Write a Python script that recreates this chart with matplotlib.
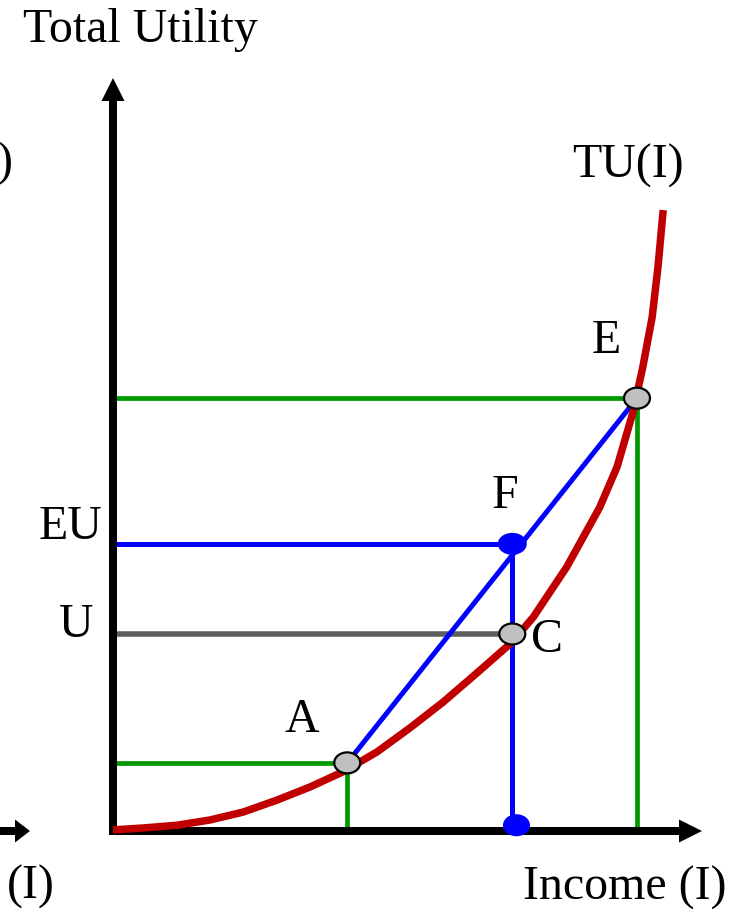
import matplotlib.pyplot as plt
from matplotlib.patches import Ellipse

# TU(I) curve (income, total utility)
curve_income = [0.0, 6.1, 12.2, 18.5, 24.8, 31.3, 37.6, 43.9, 50.4, 56.7, 63.0,
                69.5, 76.0, 80.2, 86.6, 92.9, 96.2, 99.2, 101.1, 102.9, 104.0, 105.0]
curve_util = [0.2, 0.6, 1.1, 2.1, 3.6, 5.9, 8.4, 11.3, 15.1, 19.7, 24.6,
              30.2, 35.9, 40.8, 50.4, 61.8, 69.5, 79.8, 88.5, 98.1, 107.6, 118.5]

# named points
income_A, util_A = 44.7, 13.0
income_C, util_C = 76.2, 37.6
util_EU = 54.8
income_E, util_E = 100.0, 82.6
income_dot, util_dot = 77.0, 1.1

# pixel scale of the original drawing (for layout only)
S = 5.24
X0, Y0 = 113, 831


def px(x, y):
	return (x - X0) / S, (Y0 - y) / S


RED = '#C00000'
GREEN = '#009900'
BLUE = '#0000FF'
GRAY = '#5F5F5F'
MARK = '#C0C0C0'

plt.rcParams['font.family'] = ['Liberation Serif', 'DejaVu Serif']
FS = 34.5

fig = plt.figure(figsize=(7.37, 9.09), dpi=100)
ax = fig.add_axes([0, 0, 1, 1])
ax.set_xlim(px(0, 0)[0], px(737, 0)[0])
ax.set_ylim(px(0, 909)[1], px(0, 0)[1])
ax.axis('off')

# guide lines
ax.plot([0, income_A, income_A], [util_A, util_A, 0], color=GREEN, lw=3.4, zorder=1)
ax.plot([0, income_E, income_E], [util_E, util_E, 0], color=GREEN, lw=3.4, zorder=1)
ax.plot([0, income_C], [util_C, util_C], color=GRAY, lw=4, zorder=1)
ax.plot([0, income_C, income_C], [util_EU, util_EU, 0], color=BLUE, lw=3.6, zorder=1)
ax.plot([income_A, income_E], [util_A, util_E], color=BLUE, lw=3.6, zorder=1)

# axes with arrow heads
hw, hl, w = 23 / S, 23 / S, 8 / S
ytip = px(0, 78)[1]
xtip = px(702, 0)[0]
ax.arrow(0, -w / 2, 0, ytip + w / 2, width=w, head_width=hw, head_length=hl,
         length_includes_head=True, color='black', lw=0, zorder=2)
ax.arrow(-w / 2, 0, xtip + w / 2, 0, width=w, head_width=hw, head_length=hl,
         length_includes_head=True, color='black', lw=0, zorder=2)
# cut-off arrow from the neighbouring panel
lx0 = px(-10, 0)[0]
lx1 = px(30, 0)[0]
ax.arrow(lx0, 0, lx1 - lx0, 0, width=w, head_width=hw, head_length=15 / S,
         length_includes_head=True, color='black', lw=0, zorder=2)

# utility curve
ax.plot(curve_income, curve_util, color=RED, lw=5.4, solid_capstyle='butt',
        solid_joinstyle='round', zorder=3)

# markers
for xi, yi in [(income_A, util_A), (income_C, util_C), (income_E, util_E)]:
	ax.add_patch(Ellipse((xi, yi), 26 / S, 21 / S, facecolor=MARK,
	                     edgecolor='black', lw=1.6, zorder=4))
ax.add_patch(Ellipse((income_C, util_EU), 29 / S, 22 / S, facecolor=BLUE,
                     edgecolor='none', zorder=4))
ax.add_patch(Ellipse((income_dot, util_dot), 27 / S, 22 / S, facecolor=BLUE,
                     edgecolor='none', zorder=4))

# labels
labels = [
	('Total Utility', 140, 42, 'center'),
	('TU(I)', 628, 178, 'center'),
	('E', 606, 353, 'center'),
	('F', 505, 508, 'center'),
	('EU', 70, 539, 'center'),
	('U', 76, 637, 'center'),
	('C', 547, 652, 'center'),
	('A', 302, 732, 'center'),
	('Income (I)', 625, 900, 'center'),
	('(I)', 31, 899, 'center'),
	(')', 12, 176, 'right'),
]
for txt, x, y, ha in labels:
	tx, ty = px(x, y)
	ax.text(tx, ty, txt, fontsize=FS, ha=ha, va='baseline', zorder=5)

fig.savefig('out.png', dpi=100)
